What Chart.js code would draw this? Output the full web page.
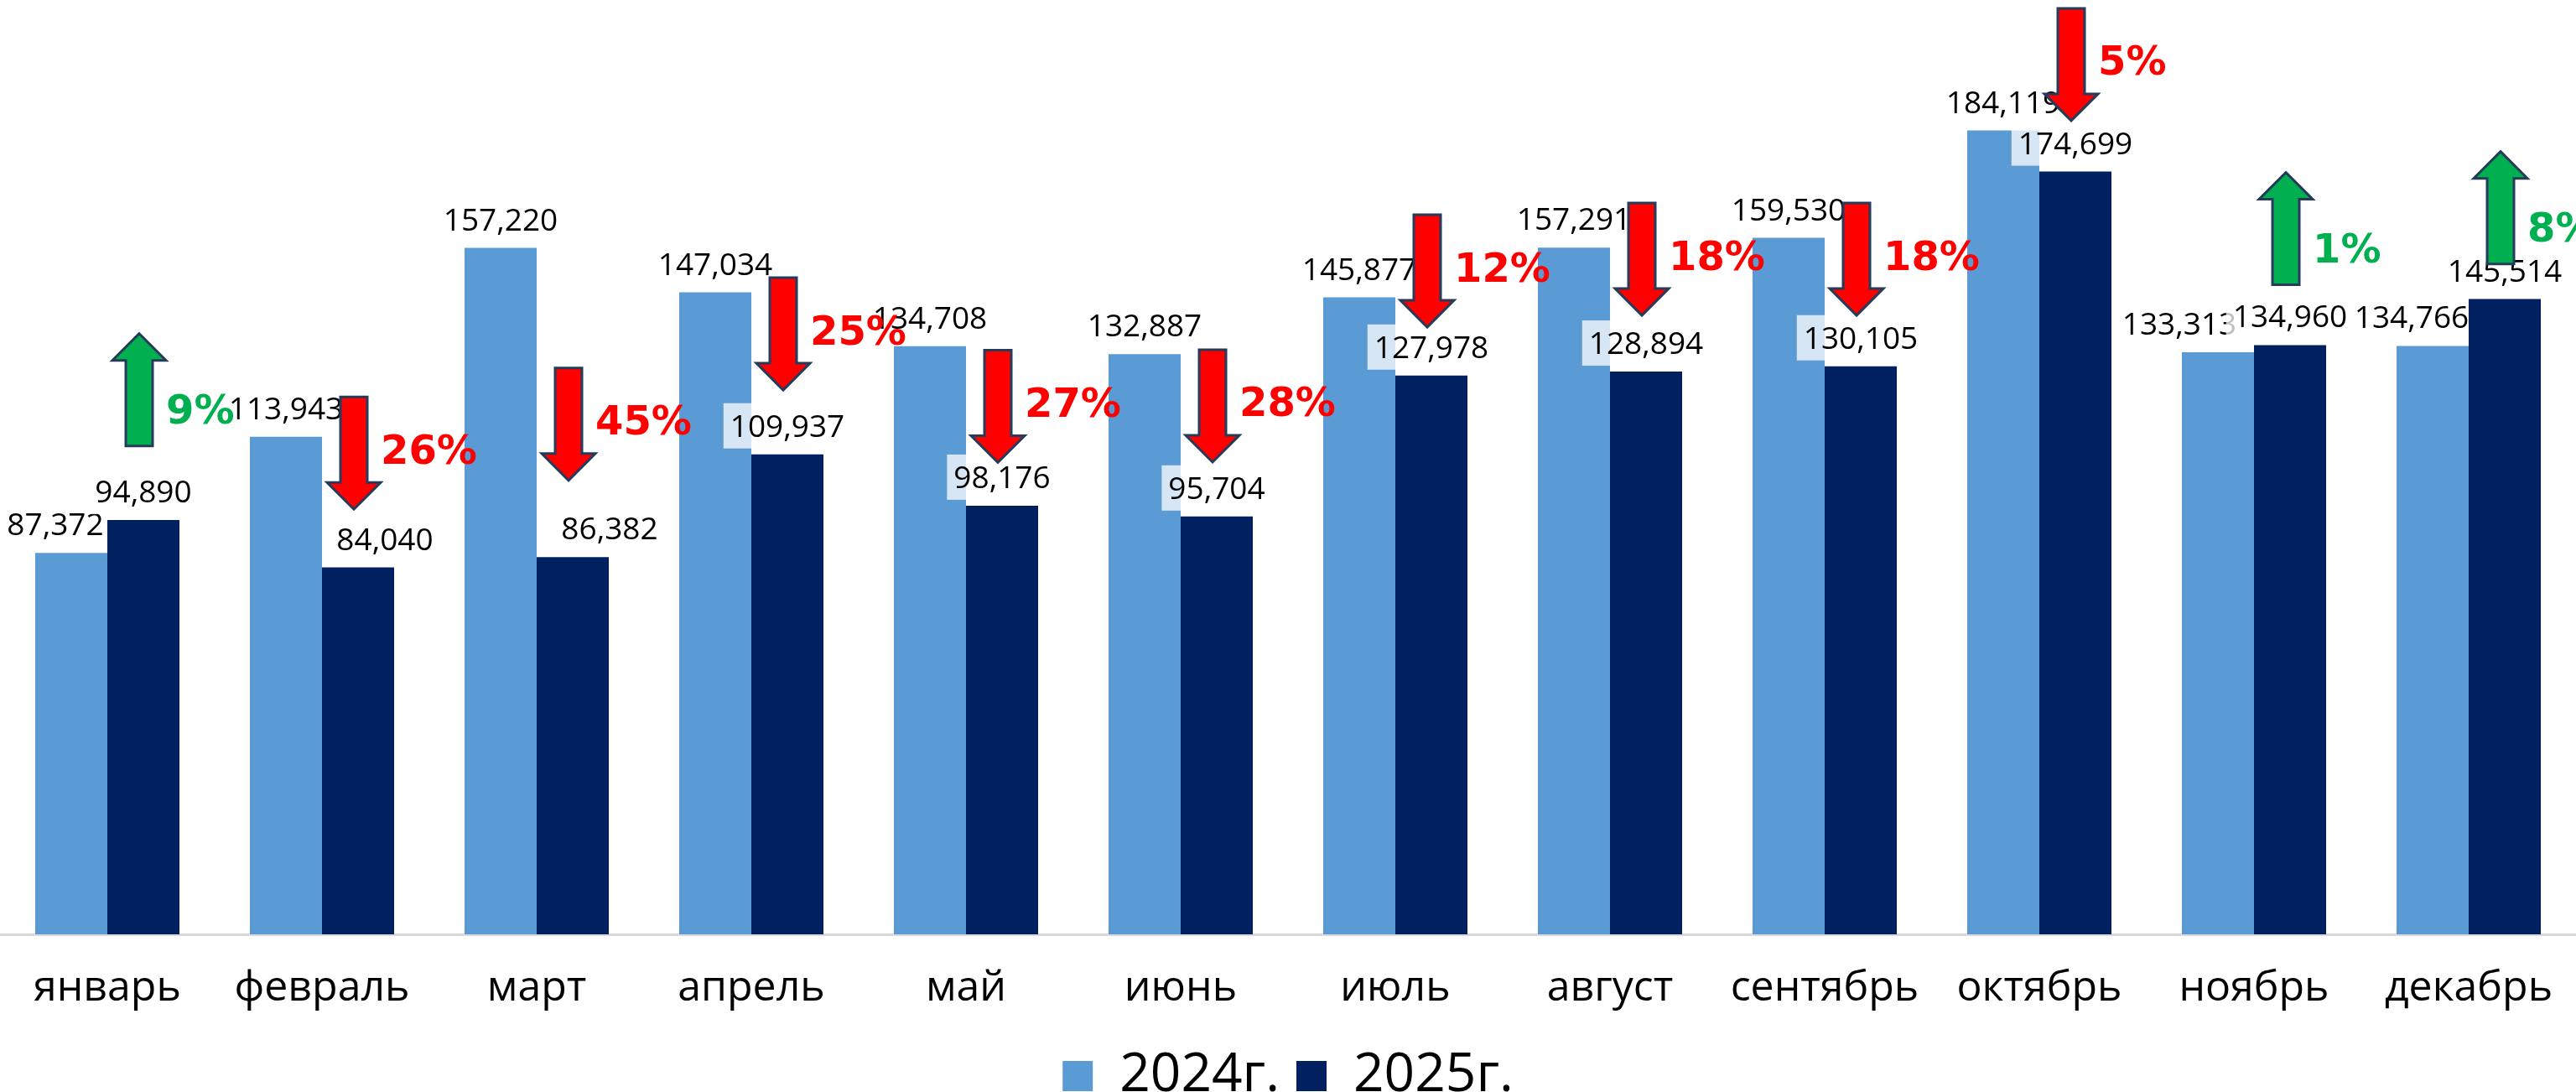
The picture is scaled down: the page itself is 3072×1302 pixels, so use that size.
<!DOCTYPE html>
<html>
<head>
<meta charset="utf-8">
<script src="https://cdn.jsdelivr.net/npm/chart.js@4.4.1/dist/chart.umd.min.js"></script>
<style>
  html, body { margin: 0; padding: 0; background: #fff; }
</style>
</head>
<body>
<canvas id="salesChart" width="3072" height="1302"></canvas>
<script>
var months = ["январь", "февраль", "март", "апрель", "май", "июнь", "июль", "август", "сентябрь", "октябрь", "ноябрь", "декабрь"];
var sales2024 = [87372, 113943, 157220, 147034, 134708, 132887, 145877, 157291, 159530, 184119, 133313, 134766];
var sales2025 = [94890, 84040, 86382, 109937, 98176, 95704, 127978, 128894, 130105, 174699, 134960, 145514];
var seriesNames = ["2024г.", "2025г."];

// level on the value axis where each change arrow starts
var arrowTop = [137600, 123100, 129700, 150400, 133800, 133900, 164800, 167500, 167500, 212100, 174500, 179300];
// a few labels were dragged sideways in the original so they clear the bars
var labelShift2024 = [-19, 0, 0, 0, 0, 0, 0, 0, 0, 0, -46, -25];
var labelShift2025 = [0, 32, 44, 0, 0, 0, 0, 0, 0, 0, 0, 0];

var FONT = '"Open Sans", sans-serif';

function fmt(v) {
  return v.toLocaleString('en-US');
}

function drawArrow(ctx, cx, top, up, fill) {
  var len = 134, head = 32, hw = 32, sw = 16;
  ctx.beginPath();
  if (up) {
    ctx.moveTo(cx, top);
    ctx.lineTo(cx + hw, top + head);
    ctx.lineTo(cx + sw, top + head);
    ctx.lineTo(cx + sw, top + len);
    ctx.lineTo(cx - sw, top + len);
    ctx.lineTo(cx - sw, top + head);
    ctx.lineTo(cx - hw, top + head);
  } else {
    var tip = top + len;
    ctx.moveTo(cx - sw, top);
    ctx.lineTo(cx + sw, top);
    ctx.lineTo(cx + sw, tip - head);
    ctx.lineTo(cx + hw, tip - head);
    ctx.lineTo(cx, tip);
    ctx.lineTo(cx - hw, tip - head);
    ctx.lineTo(cx - sw, tip - head);
  }
  ctx.closePath();
  ctx.fillStyle = fill;
  ctx.fill();
  ctx.lineWidth = 3;
  ctx.lineJoin = 'miter';
  ctx.strokeStyle = '#243b5a';
  ctx.stroke();
}

var annotate = {
  id: 'annotate',
  afterDatasetsDraw: function(chart) {
    var ctx = chart.ctx;
    var yScale = chart.scales.y;
    var bars24 = chart.getDatasetMeta(0).data;
    var bars25 = chart.getDatasetMeta(1).data;

    ctx.save();
    ctx.font = '37px ' + FONT;
    ctx.textAlign = 'center';
    ctx.textBaseline = 'alphabetic';

    ctx.fillStyle = '#000';
    bars24.forEach(function(bar, i) {
      ctx.fillText(fmt(sales2024[i]), bar.x + labelShift2024[i], bar.y - 21);
    });

    // 2025 labels sit on a see-through white box
    bars25.forEach(function(bar, i) {
      var text = fmt(sales2025[i]);
      var x = bar.x + labelShift2025[i];
      var w = ctx.measureText(text).width + 16;
      ctx.fillStyle = 'rgba(255,255,255,0.75)';
      ctx.fillRect(x - w / 2, bar.y - 61, w, 54);
      ctx.fillStyle = '#000';
      ctx.fillText(text, x, bar.y - 21);
    });

    // change arrows with percent
    ctx.font = 'bold 48px "DejaVu Sans", sans-serif';
    ctx.textAlign = 'left';
    ctx.textBaseline = 'middle';
    bars25.forEach(function(bar, i) {
      var ratio = sales2025[i] / sales2024[i] - 1;
      var up = ratio >= 0;
      var colour = up ? '#00b050' : '#ff0000';
      var cx = bar.x - 5;
      var top = yScale.getPixelForValue(arrowTop[i]);
      drawArrow(ctx, cx, top, up, colour);
      ctx.fillStyle = colour;
      ctx.fillText(Math.round(Math.abs(ratio) * 100) + '%', cx + 32, top + 67 + (up ? 28 : 0));
    });
    ctx.restore();
  }
};

var ctx = document.getElementById('salesChart').getContext('2d');
var salesChart = new Chart(ctx, {
  type: 'bar',
  data: {
    labels: months,
    datasets: [{
      label: seriesNames[0],
      data: sales2024,
      backgroundColor: '#5b9bd5'
    }, {
      label: seriesNames[1],
      data: sales2025,
      backgroundColor: '#002060'
    }]
  },
  options: {
    responsive: false,
    animation: false,
    layout: { padding: { top: 0, left: 0, right: 0, bottom: -23 } },
    datasets: {
      bar: { categoryPercentage: 0.672, barPercentage: 1.0 }
    },
    plugins: {
      legend: {
        position: 'bottom',
        labels: {
          font: { family: FONT, size: 64 },
          color: '#000',
          boxWidth: 36,
          boxHeight: 36,
          padding: 20
        }
      },
      tooltip: { enabled: false }
    },
    scales: {
      x: {
        grid: { display: false },
        border: { color: '#d9d9d9', width: 3 },
        ticks: {
          font: { family: FONT, size: 50 },
          color: '#000',
          padding: 27,
          maxRotation: 0,
          autoSkip: false
        },
        afterFit: function(scale) {
          scale.height = 117;
        }
      },
      y: { display: false, min: 0, max: 214000 }
    }
  },
  plugins: [annotate]
});
</script>
</body>
</html>
